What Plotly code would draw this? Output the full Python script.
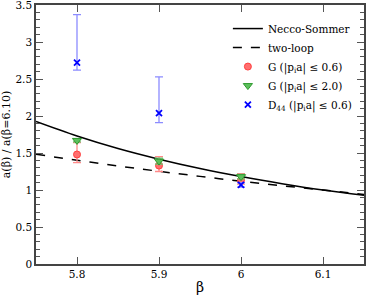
import plotly.graph_objects as go

# curves
beta_curve = [5.75, 5.80, 5.85, 5.90, 5.95, 6.00, 6.05, 6.10, 6.15]
necco_sommer = [1.925, 1.729, 1.560, 1.416, 1.290, 1.181, 1.085, 1.000, 0.928]
two_loop = [1.483, 1.402, 1.325, 1.253, 1.184, 1.119, 1.058, 1.000, 0.940]

# data points
beta_pts = [5.8, 5.9, 6.0]
g06 = [1.48, 1.33, 1.13]
g06_up = [0.16, 0.12, 0.09]
g06_dn = [0.11, 0.08, 0.05]
g20 = [1.67, 1.39, 1.18]
g20_up = [0.02, 0.04, 0.03]
g20_dn = [0.02, 0.04, 0.03]
d44 = [2.72, 2.04, 1.07]
d44_up = [0.65, 0.49, 0.03]
d44_dn = [0.10, 0.13, 0.03]

xticks = [5.8, 5.9, 6.0, 6.1]
yticks = [0, 0.5, 1, 1.5, 2, 2.5, 3, 3.5]

font = "DejaVu Serif"

fig = go.Figure()
fig.add_trace(go.Scatter(x=beta_curve, y=necco_sommer, mode="lines", name="Necco-Sommer",
                         line=dict(color="black", width=1.5, shape="spline")))
fig.add_trace(go.Scatter(x=beta_curve, y=two_loop, mode="lines", name="two-loop",
                         line=dict(color="black", width=1.5, dash="dash", shape="spline")))
fig.add_trace(go.Scatter(x=beta_pts, y=g06, mode="markers", name="G (|p<sub>i</sub>a| ≤ 0.6)",
                         marker=dict(symbol="circle", size=7, color="#ff6f6f",
                                     line=dict(color="#ff4040", width=1)),
                         error_y=dict(type="data", symmetric=False, array=g06_up, arrayminus=g06_dn,
                                      color="#ff8a8a", thickness=1.3, width=4)))
fig.add_trace(go.Scatter(x=beta_pts, y=g20, mode="markers", name="G (|p<sub>i</sub>a| ≤ 2.0)",
                         marker=dict(symbol="triangle-down", size=8, color="#5cbf5c",
                                     line=dict(color="#2e9a2e", width=1)),
                         error_y=dict(type="data", symmetric=False, array=g20_up, arrayminus=g20_dn,
                                      color="#6fbf6f", thickness=1.3, width=4)))
fig.add_trace(go.Scatter(x=beta_pts, y=d44, mode="markers", name="D<sub>44</sub> (|p<sub>i</sub>a| ≤ 0.6)",
                         marker=dict(symbol="x-thin", size=6, color="#0000ff",
                                     line=dict(color="#0000ff", width=1.8)),
                         error_y=dict(type="data", symmetric=False, array=d44_up, arrayminus=d44_dn,
                                      color="#8c8cff", thickness=1.3, width=4)))

fig.update_layout(
    width=366, height=295,
    margin=dict(l=36, r=2, t=5, b=31, autoexpand=False),
    paper_bgcolor="white", plot_bgcolor="white",
    font=dict(family=font, size=10.5, color="black"),
    showlegend=True,
    legend=dict(x=0.585, y=0.965, xanchor="left", yanchor="top",
                bgcolor="rgba(255,255,255,0)", font=dict(family=font, size=10.5),
                tracegroupgap=0, itemwidth=30),
)
fig.update_xaxes(range=[5.75, 6.15], tickvals=xticks, ticktext=["5.8", "5.9", "6", "6.1"],
                 ticks="inside", ticklen=7, tickcolor="#555", tickwidth=1.2,
                 showline=True, linecolor="#444", linewidth=1.5, mirror="allticks",
                 showgrid=False, zeroline=False, automargin=False, ticklabeloverflow="allow",
                 title=dict(text="β", font=dict(family=font, size=14), standoff=3),
                 tickfont=dict(family=font, size=10.5))
fig.update_yaxes(range=[0, 3.5], tickvals=yticks, ticktext=["0", "0.5", "1", "1.5", "2", "2.5", "3", "3.5"],
                 ticks="inside", ticklen=7, tickcolor="#555", tickwidth=1.2,
                 minor=dict(ticks="inside", dtick=0.1, ticklen=4, tickcolor="#555", tickwidth=1),
                 showline=True, linecolor="#444", linewidth=1.5, mirror="allticks",
                 showgrid=False, zeroline=False, automargin=False, ticklabeloverflow="allow",
                 title=dict(text="a(β) / a(β=6.10)", font=dict(family=font, size=11), standoff=4),
                 tickfont=dict(family=font, size=10.5))

fig.write_html("out.html", config={"displayModeBar": False},
               post_script="document.body.style.margin='0';")
